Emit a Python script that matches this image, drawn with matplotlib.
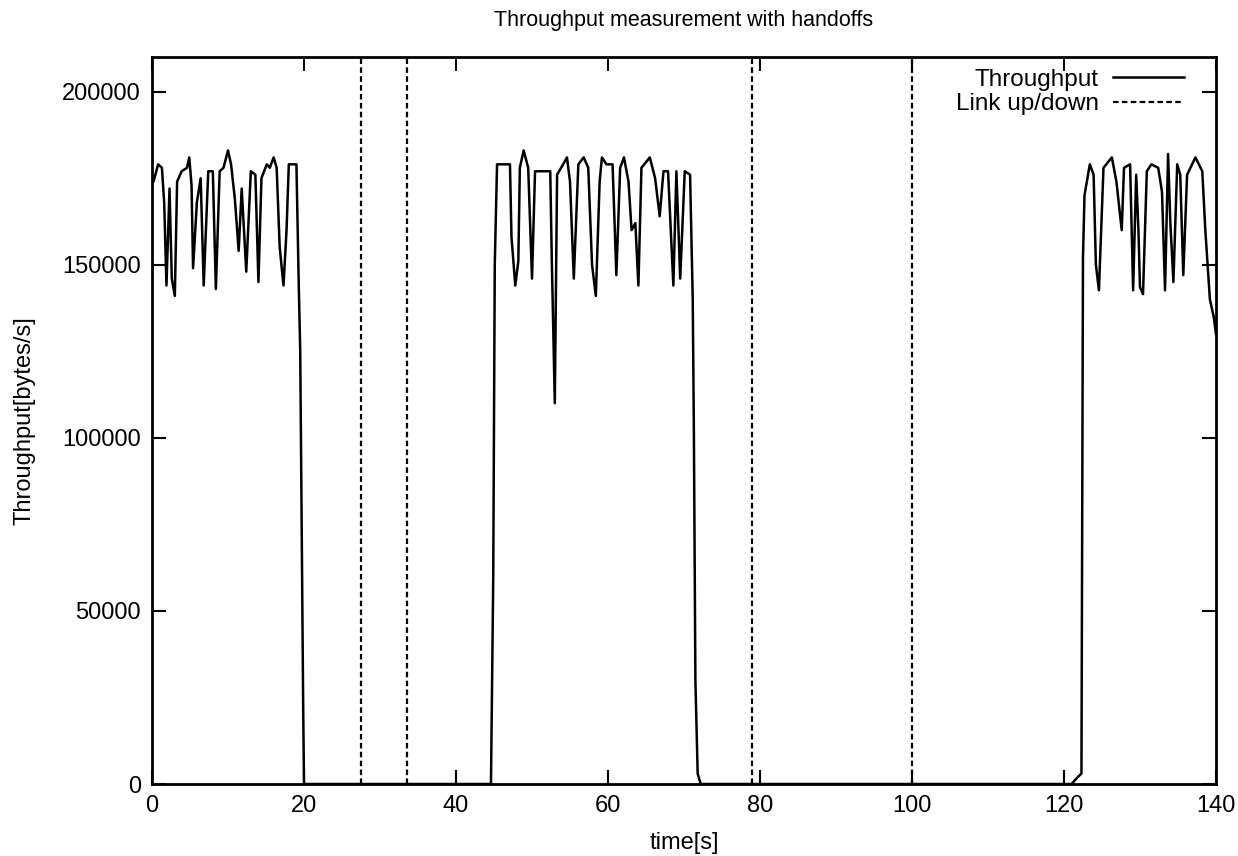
import matplotlib
matplotlib.use("Agg")
import matplotlib.pyplot as plt

plt.rcParams['font.family'] = ['Liberation Sans', 'DejaVu Sans']

# Throughput series (time [s], throughput [bytes/s])
time_s = [
    0.0, 0.2, 0.8, 1.3, 1.6, 1.9, 2.3, 2.6, 3.0, 3.3, 3.9, 4.6, 4.9, 5.2, 5.4,
    5.9, 6.4, 6.8, 7.4, 8.0, 8.4, 8.9, 9.4, 10.0, 10.4, 10.9, 11.4, 11.8, 12.4,
    13.0, 13.6, 14.0, 14.4, 15.1, 15.5, 16.0, 16.4, 16.8, 17.3, 17.7, 18.0,
    19.0, 19.3, 19.5, 19.9, 20.0,
    44.6, 44.9, 45.1, 45.4, 47.1, 47.3, 47.8, 48.2, 48.4, 48.9, 49.5, 50.0,
    50.4, 52.4, 52.6, 53.0, 53.3, 54.1, 54.6, 55.0, 55.5, 56.1, 56.8, 57.4,
    57.9, 58.4, 58.9, 59.2, 59.8, 60.6, 61.1, 61.6, 62.1, 62.7, 63.1, 63.6,
    64.0, 64.4, 65.5, 66.2, 66.8, 67.3, 67.9, 68.6, 69.0, 69.5, 70.1, 70.8,
    71.15, 71.3, 71.5, 71.8, 72.2,
    121.0, 121.8, 122.3, 122.5, 122.7, 123.4, 123.9, 124.2, 124.6, 124.9,
    125.2, 126.3, 126.9, 127.6, 127.9, 128.7, 129.1, 129.5, 129.8, 130.0,
    130.4, 130.9, 131.5, 132.4, 132.9, 133.3, 133.7, 134.0, 134.4, 134.9,
    135.3, 135.7, 136.2, 137.3, 138.2, 138.6, 139.2, 139.7, 140.0,
]
throughput = [
    174000, 174000, 179000, 178000, 168000, 144000, 172000, 146000, 141000,
    174000, 177000, 178000, 181000, 173000, 149000, 168000, 175000, 144000,
    177000, 177000, 143000, 177000, 178000, 183000, 179000, 169000, 154000,
    172000, 148000, 177000, 176000, 145000, 175000, 179000, 178000, 181000,
    178000, 155000, 144000, 160000, 179000, 179000, 145000, 125000, 20000, 0,
    0, 60000, 150000, 179000, 179000, 158000, 144000, 151000, 178000, 183000,
    178000, 146000, 177000, 177000, 152000, 110000, 176000, 179000, 181000,
    174000, 146000, 179000, 181000, 178000, 150000, 141000, 174000, 181000,
    179000, 179000, 147000, 178000, 181000, 174000, 160000, 162000, 144000,
    178000, 181000, 175000, 164000, 177000, 177000, 144000, 177000, 146000,
    177000, 176000, 140000, 102000, 30000, 3000, 0,
    0, 2000, 3000, 152000, 170000, 179000, 176000, 150000, 142600, 160000,
    178000, 181000, 174000, 160000, 178000, 179000, 142600, 176000, 160000,
    143500, 141500, 177000, 179000, 178000, 171000, 142600, 182000, 162000,
    145000, 179000, 176000, 147000, 176000, 181000, 177000, 160000, 140000,
    135000, 130000,
]
# Link up/down events (time [s])
link_events = [27.5, 33.5, 79.0, 100.0]

x_ticks = [0, 20, 40, 60, 80, 100, 120, 140]
y_ticks = [0, 50000, 100000, 150000, 200000]

fig = plt.figure(figsize=(12.38, 8.56), dpi=100)
ax = fig.add_axes([0.1228, 0.0841, 0.8594, 0.8493])

ax.plot(time_s, throughput, color='black', lw=1.8, label='Throughput')
for i, t in enumerate(link_events):
    ax.axvline(t, color='black', lw=1.6, ls=(0, (2.5, 1.5)),
               label='Link up/down' if i == 0 else None)

ax.set_xlim(0, 140)
ax.set_ylim(0, 210000)
ax.set_xticks(x_ticks)
ax.set_yticks(y_ticks)
ax.set_xticklabels([str(v) for v in x_ticks])
ax.set_yticklabels([str(v) for v in y_ticks])
ax.tick_params(direction='in', length=10, width=1.5, top=True, right=True,
               labelsize=17, pad=8)
for sp in ax.spines.values():
    sp.set_linewidth(2)

ax.set_xlabel('time[s]', fontsize=17, labelpad=11)
ax.set_ylabel('Throughput[bytes/s]', fontsize=17, labelpad=19)
ax.set_title('Throughput measurement with handoffs', fontsize=15.5, pad=22)

leg = ax.legend(loc='upper right', bbox_to_anchor=(0.979, 0.997),
                borderaxespad=0, frameon=False, markerfirst=False,
                fontsize=17.5, handlelength=2.9, labelspacing=0.1,
                handletextpad=0.6)

fig.savefig('out.png', dpi=100)
